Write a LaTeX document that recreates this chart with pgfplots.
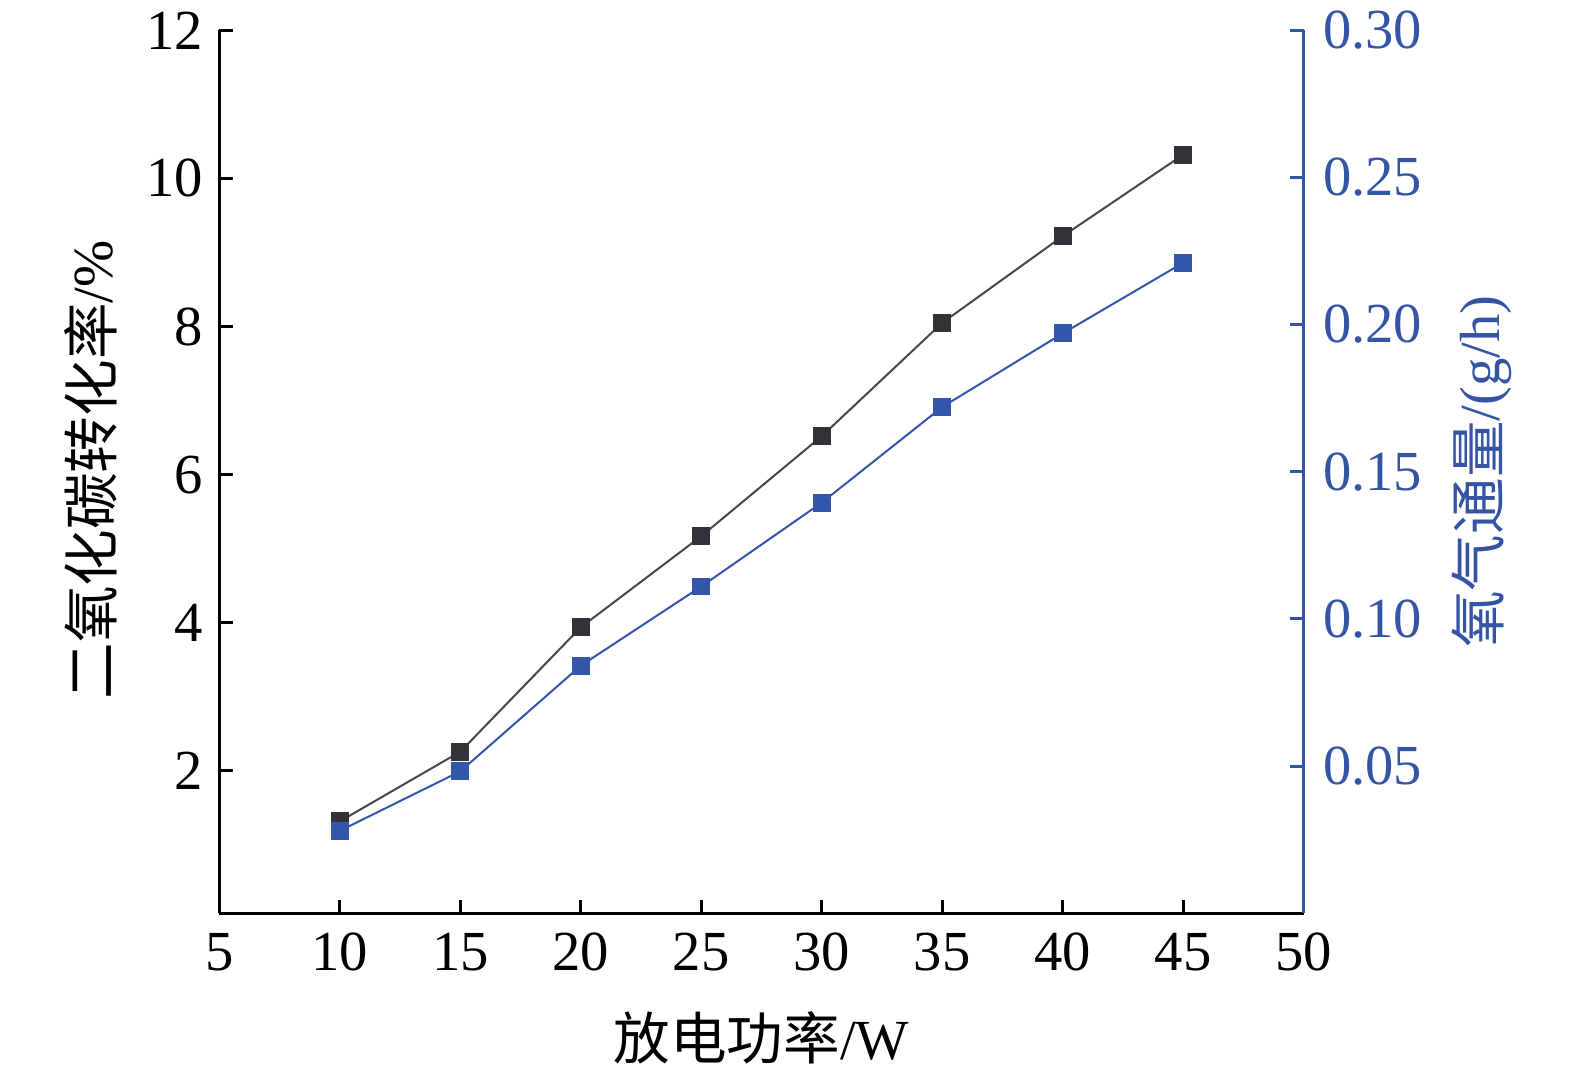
\documentclass[border=0pt]{standalone}
\usepackage{pgfplots}
\pgfplotsset{compat=1.18}
\usepackage{fontspec}
\setmainfont{Liberation Serif}
\newfontfamily\cjk{Noto Sans CJK SC}
\definecolor{axblue}{RGB}{52,84,165}
\definecolor{mkblue}{RGB}{51,85,170}
\definecolor{mkblack}{RGB}{51,51,55}
\begin{document}%
\begin{tikzpicture}[font=\fontsize{17}{20}\selectfont]
\path[use as bounding box] (-65.9pt,-48.5pt) rectangle (407.2pt,274.3pt);
\begin{axis}[
  scale only axis, width=325.7pt, height=265.2pt,
  at={(0,0)}, anchor=south west,
  xmin=5, xmax=50, ymin=0.08, ymax=12,
  axis x line*=bottom, axis y line*=left,
  axis line style={line width=0.9pt, -},
  tick align=inside, major tick length=4pt,
  every tick/.style={line width=0.9pt, black},
  xtick={5,10,...,50}, ytick={2,4,...,12},
  /pgf/number format/assume math mode=true,
  tick label style={font=\fontsize{17}{20}\selectfont},
  yticklabel style={xshift=-1.5pt},
  xticklabel style={yshift=-2.5pt},
  xlabel={{\cjk 放电功率}/W},
  ylabel={{\cjk 二氧化碳转化率}/\%},
  label style={font=\fontsize{17}{20}\selectfont},
  xlabel style={at={(axis description cs:0.5,-0.141)}, anchor=center},
  ylabel style={at={(axis description cs:-0.119,0.502)}, anchor=center},
  clip=false,
]
\addplot[color=mkblack!90, line width=0.6pt, mark=square*, mark size=2.4pt, mark options={fill=mkblack, draw=mkblack}]
coordinates {(10,1.32) (15,2.26) (20,3.94) (25,5.17) (30,6.52) (35,8.05) (40,9.22) (45,10.32)};
\end{axis}
\begin{axis}[
  scale only axis, width=325.7pt, height=265.2pt,
  at={(0,0)}, anchor=south west,
  xmin=5, xmax=50, ymin=0, ymax=0.30,
  axis y line*=right, hide x axis,
  axis line style={line width=0.9pt, axblue, -},
  tick align=inside, major tick length=4pt,
  every tick/.style={line width=0.9pt, axblue},
  ytick={0.05,0.10,...,0.30},
  yticklabel style={/pgf/number format/.cd, fixed, fixed zerofill, precision=2, /tikz/.cd, text=axblue, font=\fontsize{17}{20}\selectfont, xshift=2.3pt},
  /pgf/number format/assume math mode=true,
  ylabel={{\cjk 氧气通量}/(g/h)},
  ylabel style={at={(axis description cs:1.164,0.5)}, anchor=center, rotate=0, text=axblue, font=\fontsize{17}{20}\selectfont},
  clip=false,
]
\addplot[color=mkblue, line width=0.6pt, mark=square*, mark size=2.4pt, mark options={fill=mkblue, draw=mkblue}]
coordinates {(10,0.028) (15,0.0482) (20,0.0841) (25,0.111) (30,0.1395) (35,0.172) (40,0.197) (45,0.221)};
\end{axis}
\end{tikzpicture}%
\end{document}
